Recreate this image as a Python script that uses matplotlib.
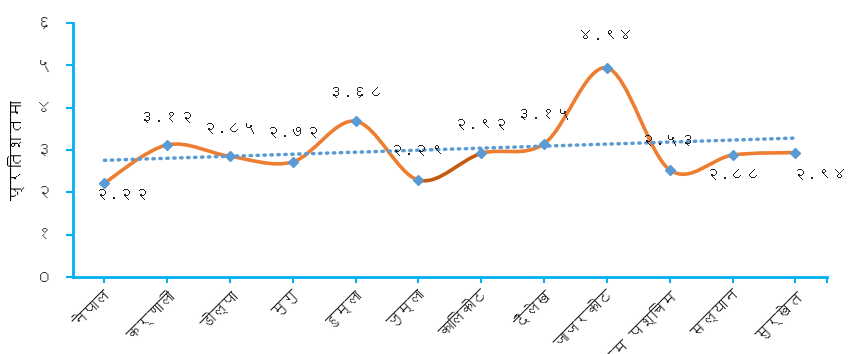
import matplotlib
matplotlib.use("Agg")
import matplotlib.pyplot as plt
from matplotlib import font_manager
from matplotlib.ft2font import FT2Font
from matplotlib.path import Path
from matplotlib.patches import PathPatch
import numpy as np

districts = ["नेपाल", "कर्णाली", "डोल्पा", "मुगु", "हुम्ला", "जुम्ला", "कालिकोट",
             "दैलेख", "जाजरकोट", "रुकुम पश्चिम", "सल्यान", "सुर्खेत"]
values = [2.22, 3.12, 2.85, 2.72, 3.68, 2.29, 2.92, 3.15, 4.94, 2.53, 2.88, 2.94]
value_labels = ["२.२२", "३.१२", "२.८५", "२.७२", "३.६८", "२.२९", "२.९२",
                "३.१५", "४.९४", "२.५३", "२.८८", "२.९४"]
ytick_labels = ["०", "१", "२", "३", "४", "५", "६"]
y_title = "प्रतिशतमा"


def find_devanagari_font():
    # look for any installed font that has Devanagari letters
    for f in font_manager.fontManager.ttflist:
        try:
            cmap = FT2Font(f.fname).get_charmap()
        except Exception:
            continue
        if 0x0928 in cmap and 0x0966 in cmap:
            return f.name
    return None


deva = find_devanagari_font()
families = ([deva] if deva else []) + ["DejaVu Sans"]
plt.rcParams["font.family"] = families

orange = "#ED7D31"
dark_orange = "#C55A11"
blue = "#5B9BD5"
axis_blue = "#00B0F0"

fig = plt.figure(figsize=(8.48, 3.54), dpi=100)
ax = fig.add_axes([0.086, 0.2175, 0.889, 0.7175])

x = np.arange(len(values))
y = np.array(values)

# smooth line, drawn as bezier segments between the points
pts = np.column_stack([x, y])
padded = np.vstack([pts[0], pts, pts[-1]])
for i in range(len(pts) - 1):
    p0, p1, p2, p3 = padded[i], padded[i + 1], padded[i + 2], padded[i + 3]
    c1 = p1 + (p2 - p0) / 6
    c2 = p2 - (p3 - p1) / 6
    path = Path([p1, c1, c2, p2], [Path.MOVETO, Path.CURVE4, Path.CURVE4, Path.CURVE4])
    color = dark_orange if i == 5 else orange
    ax.add_patch(PathPatch(path, facecolor="none", edgecolor=color, lw=2.6,
                           capstyle="round", zorder=2))

# linear trend line
slope, intercept = np.polyfit(x, y, 1)
ax.plot(x, slope * x + intercept, color=blue, lw=2.5, ls=(0, (0.4, 1.6)),
        dash_capstyle="round", zorder=3)

ax.plot(x, y, ls="none", marker="D", ms=5.5, color=blue, zorder=4)

# data labels: (dx, dy) offsets in points
offsets = [(13, -8), (0, 20), (0, 20), (0, 21), (0, 21), (-1, 21), (0, 21),
           (0, 21), (-1, 23), (-1, 21), (0, -14), (18, -16)]
for xi, yi, lab, off in zip(x, y, value_labels, offsets):
    ax.annotate(lab, (xi, yi), xytext=off, textcoords="offset points",
                ha="center", va="center", fontsize=11.5, color="#222222")

ax.set_xlim(-0.5, len(values) - 0.5)
ax.set_ylim(0, 6)
ax.set_yticks(range(7))
ax.set_yticklabels(ytick_labels, fontsize=12, color="#333333")
ax.set_xticks(x)
ax.set_xticklabels(districts, rotation=45, ha="right", rotation_mode="anchor",
                   fontsize=11, color="#222222")
ax.set_xticks([len(values) - 0.5], minor=True)
ax.tick_params(axis="y", length=5, width=1.5, color=axis_blue, pad=10)
ax.tick_params(axis="x", which="both", length=4, width=1.5, color=axis_blue, pad=4)
ax.set_ylabel(y_title, fontsize=12)
ax.yaxis.set_label_coords(-0.064, 0.5)

for side in ["top", "right"]:
    ax.spines[side].set_visible(False)
for side in ["left", "bottom"]:
    ax.spines[side].set_color(axis_blue)
    ax.spines[side].set_linewidth(2)

fig.savefig("out.png", dpi=100)
plt.close(fig)
